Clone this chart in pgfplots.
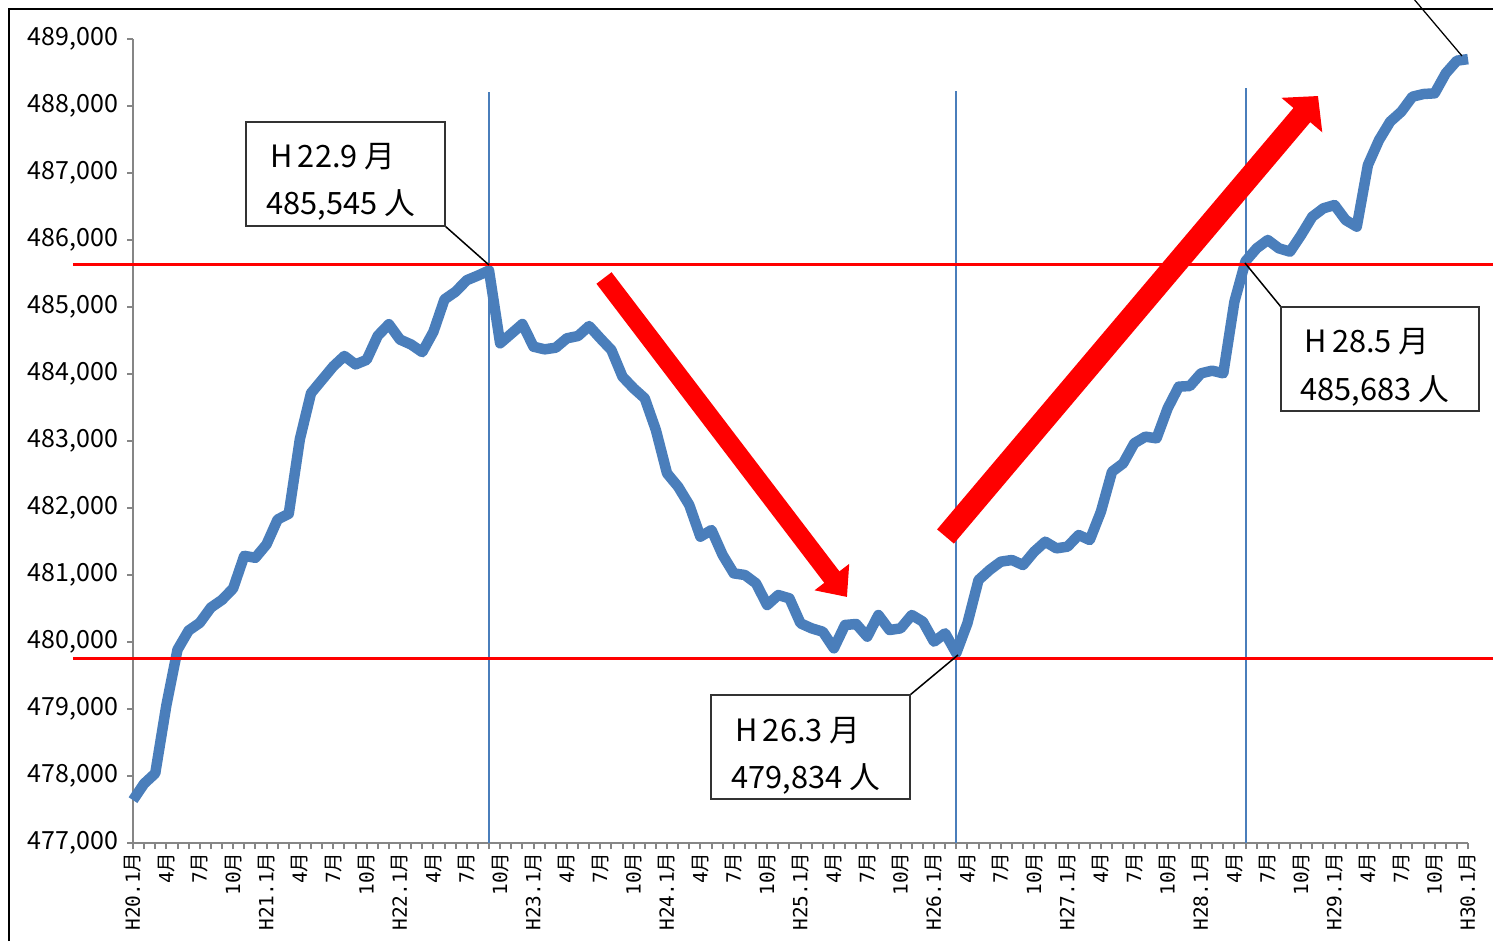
\documentclass[border=0pt]{standalone}
\usepackage{pgfplots}
\pgfplotsset{compat=1.18}
\usepackage{pgfplotstable}
\usepackage{fontspec}
\setmainfont{Noto Sans CJK JP}
\newfontfamily\tickfont{DejaVu Sans Mono}
\newcommand\lt[1]{{\tickfont #1}}
\usetikzlibrary{arrows.meta}
\definecolor{serie}{HTML}{4A7EBB}
\definecolor{axgray}{HTML}{868686}

% population by month, H20.1 = 0 ... H30.1 = 120
\pgfplotstableread{
i v
0 477640
1 477886
2 478040
3 479057
4 479886
5 480171
6 480286
7 480514
8 480629
9 480800
10 481286
11 481257
12 481457
13 481829
14 481914
15 483029
16 483714
17 483914
18 484114
19 484269
20 484143
21 484211
22 484571
23 484743
24 484514
25 484440
26 484326
27 484629
28 485114
29 485229
30 485400
31 485469
32 485545
33 484458
34 484601
35 484746
36 484408
37 484368
38 484393
39 484533
40 484567
41 484716
42 484533
43 484358
44 483960
45 483786
46 483637
47 483164
48 482518
49 482318
50 482045
51 481572
52 481672
53 481298
54 481025
55 481000
56 480876
57 480552
58 480701
59 480652
60 480279
61 480204
62 480154
63 479906
64 480254
65 480269
66 480080
67 480403
68 480179
69 480204
70 480403
71 480303
72 480005
73 480130
74 479834
75 480279
76 480925
77 481075
78 481199
79 481224
80 481149
81 481348
82 481497
83 481398
84 481423
85 481597
86 481522
87 481945
88 482542
89 482667
90 482966
91 483065
92 483040
93 483488
94 483811
95 483821
96 484010
97 484050
98 484010
99 485079
100 485683
101 485876
102 486000
103 485876
104 485826
105 486075
106 486348
107 486473
108 486522
109 486298
110 486199
111 487119
112 487492
113 487766
114 487915
115 488139
116 488179
117 488189
118 488488
119 488676
120 488700
}\popdata

\begin{document}
\begin{tikzpicture}
\begin{axis}[
    at={(0,0)}, anchor=south west,
    scale only axis, width=534pt, height=321.6pt,
    xmin=0, xmax=120, ymin=477000, ymax=489000,
    clip=false,
    axis lines=left,
    axis line style={axgray, line width=0.9pt, -},
    tick style={axgray, line width=0.8pt},
    tick align=outside,
    major tick length=2.4pt, minor tick length=2.4pt,
    xtick={0,3,...,120}, minor xtick={0,1,...,120},
    xticklabels={\lt{H20.1}月,\lt{4}月,\lt{7}月,\lt{10}月,\lt{H21.1}月,\lt{4}月,\lt{7}月,\lt{10}月,\lt{H22.1}月,\lt{4}月,\lt{7}月,\lt{10}月,\lt{H23.1}月,\lt{4}月,\lt{7}月,\lt{10}月,\lt{H24.1}月,\lt{4}月,\lt{7}月,\lt{10}月,\lt{H25.1}月,\lt{4}月,\lt{7}月,\lt{10}月,\lt{H26.1}月,\lt{4}月,\lt{7}月,\lt{10}月,\lt{H27.1}月,\lt{4}月,\lt{7}月,\lt{10}月,\lt{H28.1}月,\lt{4}月,\lt{7}月,\lt{10}月,\lt{H29.1}月,\lt{4}月,\lt{7}月,\lt{10}月,\lt{H30.1}月},
    xticklabel style={rotate=90, anchor=east, font=\fontsize{7.8}{8}\selectfont, inner sep=1.2pt},
    ytick={477000,478000,479000,480000,481000,482000,483000,484000,485000,486000,487000,488000,489000},
    scaled y ticks=false,
    yticklabel={\pgfmathprintnumber[fixed, precision=0, 1000 sep={,}, assume math mode=true]{\tick}},
    yticklabel style={font=\fontsize{10}{12}\selectfont},
]
% vertical markers
\addplot[serie, line width=0.8pt, no markers] coordinates {(32,477000) (32,488210)};
\addplot[serie, line width=0.8pt, no markers] coordinates {(74,477000) (74,488225)};
\addplot[serie, line width=0.8pt, no markers] coordinates {(100,477000) (100,488270)};
% series
\addplot[serie, line width=4.2pt, line join=round, no markers] table[x=i, y=v] {\popdata};
% red levels
\addplot[red, line width=1.2pt, no markers] coordinates {(-5.4,485630) (122.3,485630)};
\addplot[red, line width=1.2pt, no markers] coordinates {(-5.4,479750) (122.3,479750)};
\end{axis}

% annotations in pixel units of the reference
\begin{scope}[x=0.4pt, y=-0.4pt, shift={(-53.2pt,337.2pt)}]
\draw[black, line width=0.8pt] (9.5,941) -- (9.5,9.5) -- (1493,9.5);
\draw[black, line width=0.5pt] (1413,-2) -- (1462,56);

\draw[red, line width=7.6pt, -{Triangle[width=16.8pt, length=10pt]}] (604,278) -- (847,597);
\draw[red, line width=8.8pt, -{Triangle[width=20.8pt, length=10pt]}] (945.5,536.5) -- (1318,96);

\draw[black, line width=0.6pt] (445,226) -- (489,265);
\draw[black, line width=0.6pt] (910,695) -- (958,655);
\draw[black, line width=0.6pt] (1281,307) -- (1245,263);

\tikzset{ctext/.style={anchor=base west, inner sep=0pt, font=\fontsize{12.3}{14}\selectfont}}
\draw[black!80, line width=0.6pt, fill=white] (246,122) rectangle (445,226);
\node[ctext] at (270,168) {H\,22.9 月};
\node[ctext] at (266,215) {485,545 人};

\draw[black!80, line width=0.6pt, fill=white] (711,695) rectangle (910,799);
\node[ctext] at (735,741) {H\,26.3 月};
\node[ctext] at (731,788) {479,834 人};

\draw[black!80, line width=0.6pt, fill=white] (1281,307) rectangle (1479,411);
\node[ctext] at (1304,353) {H\,28.5 月};
\node[ctext] at (1300,401) {485,683 人};

\pgfresetboundingbox
\path[use as bounding box] (0,0) rectangle (1493,941);
\end{scope}
\end{tikzpicture}
\end{document}
